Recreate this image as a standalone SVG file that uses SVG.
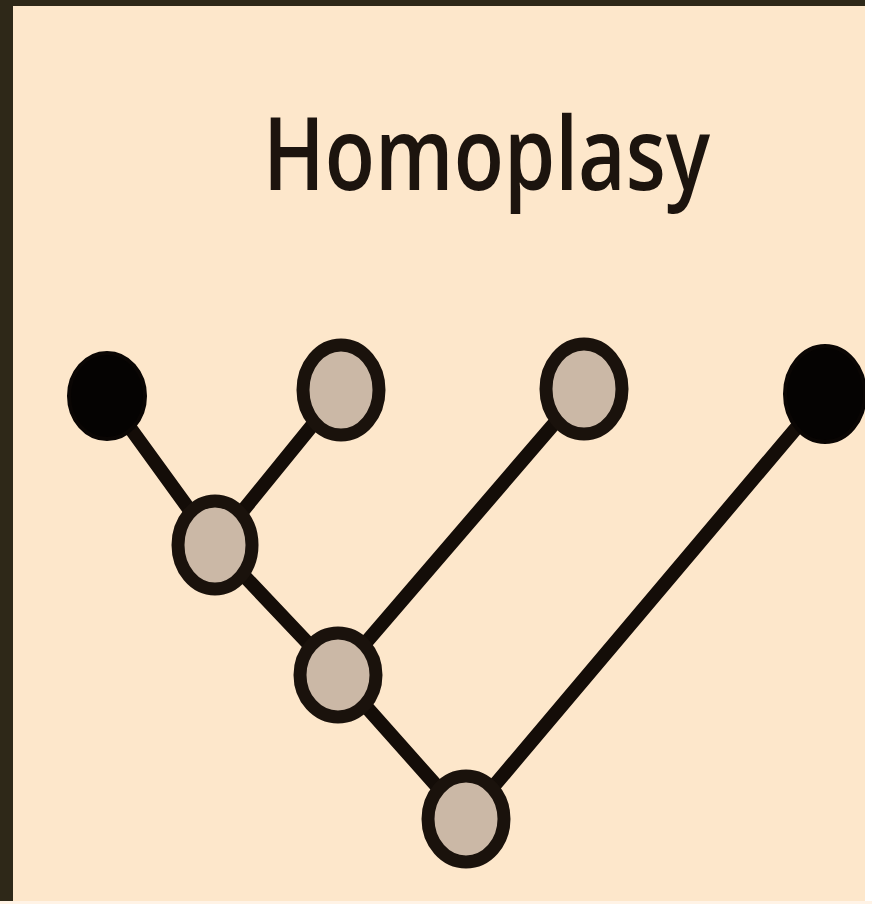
<svg xmlns="http://www.w3.org/2000/svg" width="872" height="904" viewBox="0 0 872 904">
<style>
.edge{stroke:#140d08;stroke-width:14;stroke-linecap:round;fill:none}
.grey{fill:#cbb8a6;stroke:#1a120c;stroke-width:13}
.black{fill:#050302;stroke:#0a0604;stroke-width:4}
.title{font-family:"Open Sans","Noto Sans","Liberation Sans",sans-serif;font-size:102px;font-weight:600;fill:#1c140e}
</style>
<rect x="0" y="0" width="872" height="904" fill="#fde7cb"/>
<rect x="0" y="0" width="872" height="6" fill="#2e2818"/>
<rect x="0" y="0" width="13" height="904" fill="#2e2818"/>
<text class="title" x="263" y="190" textLength="447" lengthAdjust="spacingAndGlyphs">Homoplasy</text>
<g id="connectors">
<line class="edge" x1="107" y1="396" x2="215" y2="545"/>
<line class="edge" x1="341" y1="390" x2="215" y2="545"/>
<line class="edge" x1="215" y1="545" x2="338" y2="675"/>
<line class="edge" x1="584" y1="389" x2="338" y2="675"/>
<line class="edge" x1="338" y1="675" x2="466" y2="819"/>
<line class="edge" x1="825" y1="394" x2="466" y2="819"/>
</g>
<g id="leaf1"><ellipse class="black" cx="107" cy="396" rx="38" ry="43"/></g>
<g id="leaf2"><ellipse class="grey" cx="341" cy="390" rx="38" ry="45"/></g>
<g id="leaf3"><ellipse class="grey" cx="584" cy="389" rx="38" ry="45"/></g>
<g id="leaf4"><ellipse class="black" cx="825" cy="394" rx="40" ry="48"/></g>
<g id="nodeA"><ellipse class="grey" cx="215" cy="545" rx="37" ry="44"/></g>
<g id="nodeB"><ellipse class="grey" cx="338" cy="675" rx="38" ry="42"/></g>
<g id="nodeC"><ellipse class="grey" cx="466" cy="819" rx="38" ry="43"/></g>
<rect x="865" y="0" width="7" height="904" fill="#ffffff"/>
<rect x="0" y="901" width="872" height="3" fill="#fff3e6"/>
</svg>
